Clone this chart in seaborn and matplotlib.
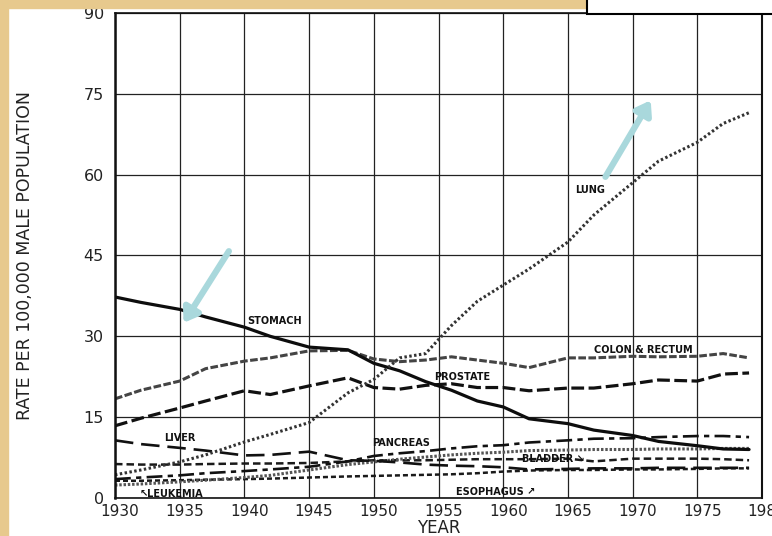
import matplotlib
matplotlib.use("Agg")
import matplotlib.pyplot as plt
import matplotlib.transforms as mtransforms
from matplotlib.patches import Rectangle
import seaborn as sns

# Values (rate per 100,000 males)
years = [1930, 1932, 1935, 1937, 1940, 1942, 1945, 1948, 1950, 1952, 1954,
         1956, 1958, 1960, 1962, 1965, 1967, 1970, 1972, 1975, 1977, 1979]

lung = [4.3, 5.2, 6.7, 8.0, 10.4, 11.8, 14.0, 19.5, 22.0, 26.0, 26.8,
        32.0, 36.5, 39.5, 42.5, 47.5, 52.5, 58.5, 62.5, 66.0, 69.5, 71.5]
stomach = [37.3, 36.3, 35.0, 33.6, 31.7, 30.0, 28.0, 27.5, 25.0, 23.6, 21.6,
           20.0, 18.0, 16.9, 14.7, 13.8, 12.6, 11.6, 10.5, 9.7, 9.1, 9.0]
colon = [18.4, 20.0, 21.7, 24.0, 25.4, 26.0, 27.3, 27.4, 25.8, 25.3, 25.6,
         26.2, 25.6, 25.0, 24.2, 26.0, 26.0, 26.3, 26.2, 26.3, 26.8, 26.0]
prostate = [13.4, 14.8, 16.7, 18.0, 19.9, 19.2, 20.8, 22.3, 20.5, 20.2, 20.9,
            21.2, 20.5, 20.5, 19.9, 20.4, 20.4, 21.2, 21.9, 21.7, 23.0, 23.2]
liver = [10.7, 10.0, 9.3, 8.8, 7.9, 8.0, 8.6, 7.0, 6.9, 6.6, 6.2,
         6.0, 5.9, 5.7, 5.3, 5.4, 5.5, 5.5, 5.6, 5.6, 5.6, 5.6]
pancreas = [3.5, 3.8, 4.2, 4.6, 5.0, 5.3, 5.8, 6.8, 7.8, 8.3, 8.7,
            9.2, 9.6, 9.8, 10.3, 10.7, 11.0, 11.1, 11.3, 11.5, 11.5, 11.3]
leukemia = [2.4, 2.6, 3.0, 3.3, 3.8, 4.2, 5.2, 6.2, 6.7, 7.2, 7.6,
            8.0, 8.3, 8.5, 8.8, 8.9, 9.0, 9.0, 9.1, 9.1, 9.2, 9.2]
bladder = [6.3, 6.2, 6.2, 6.3, 6.4, 6.4, 6.5, 6.8, 7.0, 7.0, 7.0,
           7.1, 7.2, 7.2, 7.2, 7.3, 6.8, 7.3, 7.3, 7.3, 7.2, 7.0]
esophagus = [3.2, 3.2, 3.3, 3.4, 3.5, 3.6, 3.8, 4.0, 4.1, 4.2, 4.3,
             4.4, 4.6, 4.9, 5.1, 5.2, 5.2, 5.3, 5.3, 5.4, 5.5, 5.5]

x_ticks = [1930, 1935, 1940, 1945, 1950, 1955, 1960, 1965, 1970, 1975, 1980]
y_ticks = [0, 15, 30, 45, 60, 75, 90]

sns.set_style("white")
plt.rcParams['font.family'] = ['DejaVu Sans']

fig = plt.figure(figsize=(7.72, 5.36), dpi=100)
ax = fig.add_axes([115 / 772, 1 - 498 / 536, 647 / 772, 485 / 536])

# series: values, colour, width, dash pattern
series = [
    (esophagus, '#1a1a1a', 1.8, (0, (2, 1.2))),
    (bladder, '#1a1a1a', 1.8, (0, (3, 1.6))),
    (leukemia, '#555555', 2.2, (0, (0.8, 0.6))),
    (liver, '#111111', 1.9, (0, (7, 3))),
    (pancreas, '#111111', 1.9, (0, (6, 2, 2, 2))),
    (prostate, '#111111', 2.3, (0, (4, 1.4))),
    (colon, '#444444', 2.2, (0, (2.5, 0.8))),
    (stomach, '#0d0d0d', 2.3, '-'),
    (lung, '#333333', 2.2, (0, (0.8, 0.8))),
]
for vals, col, lw, ls in series:
    sns.lineplot(x=years, y=vals, ax=ax, color=col, lw=lw, linestyle=ls)

ax.set_xlim(1930, 1980)
ax.set_ylim(0, 90)
ax.set_xticks(x_ticks)
ax.set_yticks(y_ticks)
ax.set_xticklabels([str(v) for v in x_ticks], fontsize=11, color='#222222')
ax.set_yticklabels([str(v) for v in y_ticks], fontsize=11.5, color='#222222')
ax.tick_params(axis='x', length=2, width=0.8, color='#333333', pad=2)
ax.tick_params(axis='y', length=3, width=0.8, color='#333333', pad=5)
# the printed year labels sit a little right of their gridlines
shift = mtransforms.ScaledTranslation(5 / 100, 0, fig.dpi_scale_trans)
for t in ax.get_xticklabels():
    t.set_transform(t.get_transform() + shift)
ax.grid(True, color='#222222', lw=0.9)
for side, w in [('left', 1.8), ('bottom', 1.2), ('right', 1.5), ('top', 1.2)]:
    ax.spines[side].set_color('#111111')
    ax.spines[side].set_linewidth(w)

ax.set_xlabel('YEAR', fontsize=12, color='#222222', labelpad=0)
ax.set_ylabel('RATE PER 100,000 MALE POPULATION', fontsize=12.5, color='#222222',
              labelpad=36)

# in-chart labels
lab = dict(fontsize=7, fontweight='bold', color='#111111', ha='center', va='center')
ax.text(1942.3, 32.8, 'STOMACH', **lab)
ax.text(1966.7, 57.2, 'LUNG', **lab)
ax.text(1970.8, 27.4, 'COLON & RECTUM', **lab)
ax.text(1956.8, 22.4, 'PROSTATE', **lab)
ax.text(1935.0, 11.1, 'LIVER', **lab)
ax.text(1952.1, 10.2, 'PANCREAS', **lab)
ax.text(1963.9, 7.3, 'BLADDER \u2198', **lab)
ax.text(1959.4, 1.1, 'ESOPHAGUS \u2197', **lab)
ax.text(1934.4, 0.7, '\u2196LEUKEMIA', **lab)

# light blue arrows on the scan
arrow = dict(arrowstyle='-|>,head_width=0.55,head_length=0.8', color='#a9d8dc', lw=4.5,
             shrinkA=0, shrinkB=0)
ax.annotate('', xy=(1935.3, 32.5), xytext=(1938.8, 45.8), arrowprops=arrow)
ax.annotate('', xy=(1971.4, 73.8), xytext=(1967.9, 59.6), arrowprops=arrow)

# scan border and slide box
fig.patches.append(Rectangle((0, 0), 8 / 772, 1, transform=fig.transFigure,
                             color='#e7c98d', zorder=0))
fig.patches.append(Rectangle((0, 1 - 8 / 536), 1, 8 / 536, transform=fig.transFigure,
                             color='#e7c98d', zorder=0))
fig.patches.append(Rectangle((587 / 772, 1 - 14 / 536), 0.3, 0.1, transform=fig.transFigure,
                             fill=True, fc='white', ec='black', lw=1.5, zorder=5))

fig.savefig('out.png', dpi=100)
